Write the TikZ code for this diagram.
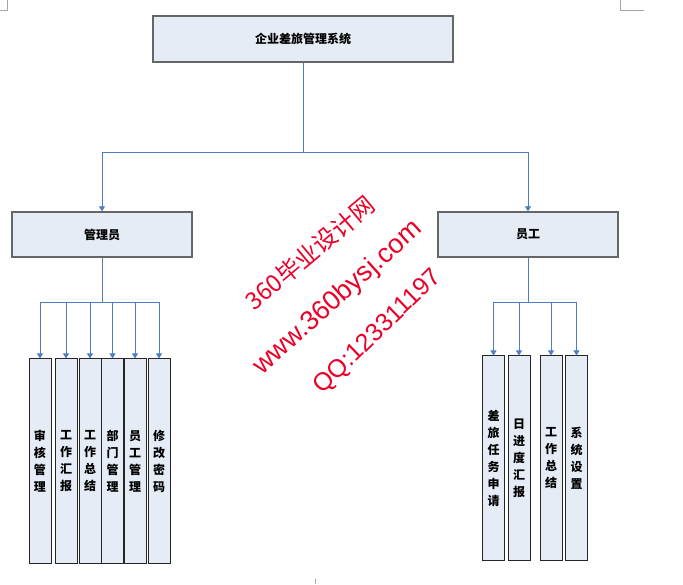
\documentclass[tikz,border=0pt]{standalone}
\usepackage{fontspec}
\newfontfamily\cjk{Noto Sans CJK SC}
\newfontfamily\marksans{Liberation Sans}
\usetikzlibrary{arrows.meta}
\definecolor{boxfill}{RGB}{230,236,246}
\definecolor{linkblue}{RGB}{79,125,196}
\definecolor{markred}{RGB}{235,0,40}
\tikzset{
  box/.style={draw=black!60, line width=1.4pt, fill=boxfill, inner sep=0pt,
    font=\cjk\bfseries\fontsize{12}{14}\selectfont},
  leaf/.style={box, draw=black!85, line width=1pt, minimum width=22pt,
    minimum height=204pt, align=center,
    font=\cjk\bfseries\fontsize{12}{17}\selectfont},
  link/.style={draw=linkblue, line width=0.9pt},
  arr/.style={link, -{Triangle[length=5pt,width=6pt]}},
  wmtext/.style={text=markred, inner sep=0pt}
}
% one tall box under a split point
\newcommand{\leafbox}[5]{
\node [leaf] (#1) at (#2,#3) {#4};
\draw [arr] (#5) -| (#1.north);
}

\begin{document}
\begin{tikzpicture}[x=1pt,y=-1pt]
\useasboundingbox (0,0) rectangle (683,585);
% page corner marks
\draw [gray!70, line width=0.8pt] (0,10) -- (7,10) -- (7,0);
\draw [gray!70, line width=0.8pt] (620,0) -- (620,10) -- (644,10);
\draw [gray!70, line width=0.8pt] (315,579) -- (315,584);

\node [box, minimum width=300pt, minimum height=46pt] (sys) at (303,39) {企业差旅管理系统};
\node [box, minimum width=180pt, minimum height=45pt] (adm) at (102,234.5) {管理员};
\node [box, minimum width=180pt, minimum height=45pt] (emp) at (528,234.5) {员工};

\coordinate (syssplit) at (303,152);
\draw [link] (sys.south) -- (syssplit);
\draw [arr] (syssplit) -| (adm.north);
\draw [arr] (syssplit) -| (emp.north);

\coordinate (admsplit) at (102,302);
\coordinate (empsplit) at (528,302);
\draw [link] (adm.south) -- (admsplit);
\draw [link] (emp.south) -- (empsplit);

\leafbox{audit}{40}{461}{审\\核\\管\\理}{admsplit}
\leafbox{report}{66}{461}{工\\作\\汇\\报}{admsplit}
\leafbox{summary}{90}{461}{工\\作\\总\\结}{admsplit}
\leafbox{dept}{112.5}{461}{部\\门\\管\\理}{admsplit}
\leafbox{staff}{135}{461}{员\\工\\管\\理}{admsplit}
\leafbox{passwd}{159}{461}{修\\改\\密\\码}{admsplit}

\leafbox{apply}{493.5}{458}{差\\旅\\任\\务\\申\\请}{empsplit}
\leafbox{daily}{519}{458}{日\\进\\度\\汇\\报}{empsplit}
\leafbox{esummary}{551}{458}{工\\作\\总\\结}{empsplit}
\leafbox{settings}{576.5}{458}{系\\统\\设\\置}{empsplit}

% watermark
\node [wmtext, rotate=40, font=\cjk\fontsize{24}{24}\selectfont] (wm1) at (310,253) {360毕业设计网};
\node [wmtext, rotate=42, font=\marksans\fontsize{27}{27}\selectfont] (wm2) at (338,298) {www.360bysj.com};
\node [wmtext, rotate=44, font=\marksans\fontsize{25}{25}\selectfont] (wm3) at (378,332) {QQ:123311197};
\end{tikzpicture}
\end{document}
